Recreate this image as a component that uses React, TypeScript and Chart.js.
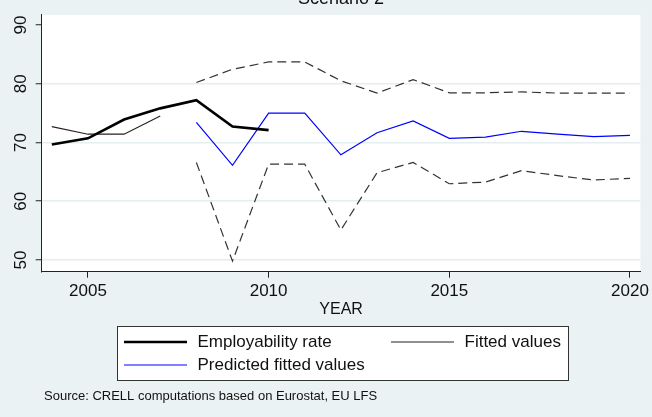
import React, { useEffect, useRef } from 'react';
import { Chart, registerables } from 'chart.js';

Chart.register(...registerables);

const FONT = '"Liberation Sans", Arial, Helvetica, sans-serif';

const chartTitle = 'Scenario 2';
const xAxisTitle = 'YEAR';
const sourceNote = 'Source: CRELL computations based on Eurostat, EU LFS';

const employYears = [2004, 2005, 2006, 2007, 2008, 2009, 2010];
const employRate = [69.65, 70.7, 73.9, 75.8, 77.2, 72.7, 72.1];

const fittedYears = [2004, 2005, 2006, 2007];
const fittedValues = [72.7, 71.4, 71.4, 74.5];

const predYears = [2008, 2009, 2010, 2011, 2012, 2013, 2014, 2015, 2016, 2017, 2018, 2019, 2020];
const predictedValues = [73.4, 66.1, 75.0, 75.0, 67.9, 71.65, 73.65, 70.7, 70.9, 71.9, 71.4, 71.0, 71.2];
const upperBound = [80.2, 82.45, 83.7, 83.7, 80.5, 78.4, 80.7, 78.45, 78.45, 78.6, 78.4, 78.4, 78.4];
const lowerBound = [66.6, 49.8, 66.3, 66.3, 55.1, 64.85, 66.6, 62.97, 63.25, 65.2, 64.35, 63.6, 63.9];

const xTicks = [2005, 2010, 2015, 2020];
const yTicks = [50, 60, 70, 80, 90];

const toPoints = (xs: number[], ys: number[]) => xs.map((x, i) => ({ x, y: ys[i] }));

const bgPlugin = {
  id: 'stataBackground',
  beforeDraw(chart: any) {
    const { ctx, chartArea: a, width, height } = chart;
    ctx.save();
    ctx.fillStyle = '#EAF2F3';
    ctx.fillRect(0, 0, width, height);
    ctx.fillStyle = '#FFFFFF';
    ctx.fillRect(a.left, a.top, a.right - a.left, a.bottom - a.top);
    ctx.restore();
  },
};

const decorPlugin = {
  id: 'stataDecor',
  afterDraw(chart: any) {
    const { ctx, chartArea: a } = chart;
    ctx.save();
    // title (partly cut at top, as in the reference)
    ctx.fillStyle = '#111';
    ctx.font = `18px ${FONT}`;
    ctx.textAlign = 'center';
    ctx.textBaseline = 'alphabetic';
    ctx.fillText(chartTitle, (a.left + a.right) / 2, 4);

    // legend box
    ctx.fillStyle = '#FFFFFF';
    ctx.fillRect(117.5, 326.5, 451, 54);
    ctx.strokeStyle = '#333';
    ctx.lineWidth = 1;
    ctx.strokeRect(117.5, 326.5, 451, 54);
    const slots = [
      { x: 124, y: 342 },
      { x: 391, y: 342 },
      { x: 124, y: 365 },
    ];
    const items = chart.data.datasets.filter((d: any) => d.label);
    items.forEach((d: any, i: number) => {
      const s = slots[i];
      if (!s) return;
      ctx.strokeStyle = d.borderColor;
      ctx.lineWidth = d.borderWidth;
      ctx.setLineDash([]);
      ctx.beginPath();
      ctx.moveTo(s.x, s.y);
      ctx.lineTo(s.x + 63, s.y);
      ctx.stroke();
      ctx.fillStyle = '#111';
      ctx.font = `17px ${FONT}`;
      ctx.textAlign = 'left';
      ctx.textBaseline = 'middle';
      ctx.fillText(d.label, s.x + 73.5, s.y);
    });

    // source note
    ctx.fillStyle = '#111';
    ctx.font = `13px ${FONT}`;
    ctx.textAlign = 'left';
    ctx.textBaseline = 'alphabetic';
    ctx.fillText(sourceNote, 44, 400);
    ctx.restore();
  },
};

export default function App() {
  const canvasRef = useRef<HTMLCanvasElement | null>(null);

  useEffect(() => {
    if (!canvasRef.current) return;
    const chart = new Chart(canvasRef.current, {
      type: 'line',
      data: {
        datasets: [
          {
            label: 'Employability rate',
            data: toPoints(employYears, employRate),
            borderColor: '#000000',
            borderWidth: 2.6,
            pointRadius: 0,
            tension: 0,
          },
          {
            label: 'Fitted values',
            data: toPoints(fittedYears, fittedValues),
            borderColor: '#222222',
            borderWidth: 1.2,
            pointRadius: 0,
            tension: 0,
          },
          {
            label: 'Predicted fitted values',
            data: toPoints(predYears, predictedValues),
            borderColor: '#0000FF',
            borderWidth: 1.2,
            pointRadius: 0,
            tension: 0,
          },
          {
            label: '',
            data: toPoints(predYears, upperBound),
            borderColor: '#333333',
            borderWidth: 1.2,
            borderDash: [9, 5],
            pointRadius: 0,
            tension: 0,
          },
          {
            label: '',
            data: toPoints(predYears, lowerBound),
            borderColor: '#333333',
            borderWidth: 1.2,
            borderDash: [9, 5],
            pointRadius: 0,
            tension: 0,
          },
        ],
      },
      options: {
        animation: false,
        responsive: false,
        devicePixelRatio: 1,
        layout: { padding: { left: 0, top: 9.5, right: 7, bottom: 98.3 } },
        plugins: {
          legend: { display: false },
          tooltip: { enabled: false },
          title: { display: false },
        },
        scales: {
          x: {
            type: 'linear',
            min: 2003.72,
            max: 2020.29,
            afterBuildTicks: (s: any) => {
              s.ticks = xTicks.map((v) => ({ value: v }));
            },
            afterFit: (s: any) => {
              s.height = 47;
            },
            border: { display: true, color: '#222', width: 1 },
            grid: { drawOnChartArea: false, drawTicks: true, tickLength: 6, tickColor: '#222', tickWidth: 1 },
            ticks: {
              font: { family: FONT, size: 17 },
              color: '#111',
              padding: 3,
              maxRotation: 0,
              autoSkip: false,
              callback: (v: any) => String(v),
            },
            title: {
              display: true,
              text: xAxisTitle,
              font: { family: FONT, size: 16 },
              color: '#111',
              padding: 0,
            },
          },
          y: {
            type: 'linear',
            min: 48,
            max: 91.7,
            afterBuildTicks: (s: any) => {
              s.ticks = yTicks.map((v) => ({ value: v }));
            },
            afterFit: (s: any) => {
              s.width = 41.7;
            },
            border: { display: true, color: '#222', width: 1 },
            grid: {
              color: (c: any) => (c.tick && c.tick.value === 90 ? 'rgba(0,0,0,0)' : '#E4EDF0'),
              lineWidth: 1.5,
              drawTicks: true,
              tickLength: 6,
              tickColor: '#222',
              tickWidth: 1,
            },
            ticks: {
              font: { family: FONT, size: 17 },
              color: '#111',
              padding: 4.75,
              minRotation: 90,
              maxRotation: 90,
              crossAlign: 'center',
              callback: (v: any) => String(v),
            },
          },
        },
      },
      plugins: [bgPlugin, decorPlugin],
    } as any);
    return () => chart.destroy();
  }, []);

  return (
    <div style={{ position: 'absolute', left: 0, top: 0, width: 652, height: 417 }}>
      <canvas ref={canvasRef} width={652} height={417} style={{ width: 652, height: 417, display: 'block' }} />
    </div>
  );
}
